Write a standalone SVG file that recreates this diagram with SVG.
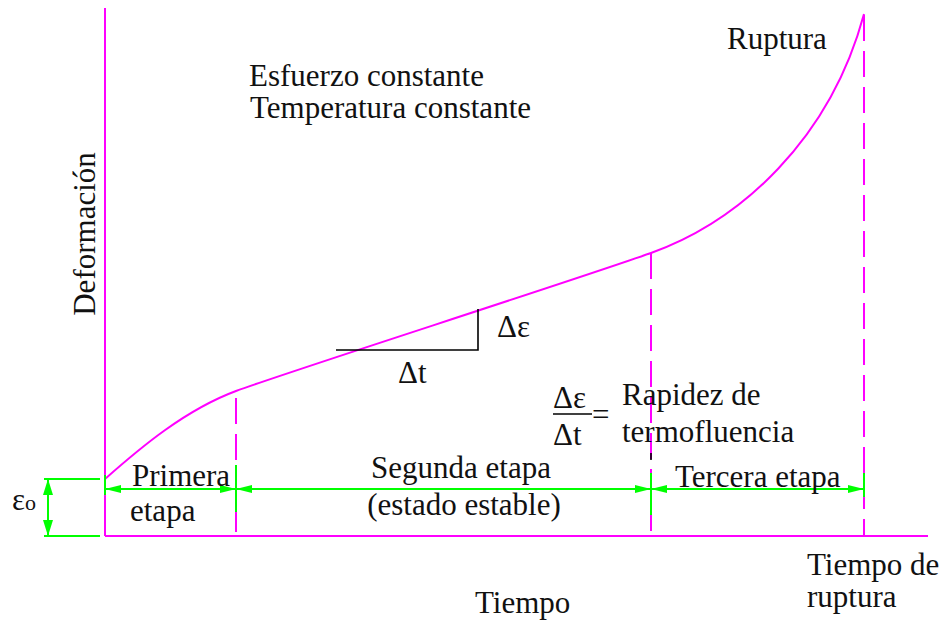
<svg xmlns="http://www.w3.org/2000/svg" width="946" height="621" viewBox="0 0 946 621">
<style>
text{font-family:"Liberation Serif","Times New Roman",serif;font-size:31px;fill:#111}
.mg{stroke:#FF00FF;stroke-width:2;fill:none}
.dash{stroke:#FF00FF;stroke-width:2;fill:none;stroke-dasharray:26 10}
.gr{stroke:#00FF00;stroke-width:2;fill:none}
.bk{stroke:#000;stroke-width:1.6;fill:none}
</style>
<defs>
<marker id="ah" viewBox="0 0 16 8" refX="16" refY="4" markerWidth="16" markerHeight="8" markerUnits="userSpaceOnUse" orient="auto-start-reverse">
<path d="M0,0 L16,4 L0,8 Z" fill="#00FF00"/>
</marker>
<marker id="av" viewBox="0 0 16 10" refX="16" refY="5" markerWidth="16" markerHeight="10" markerUnits="userSpaceOnUse" orient="auto-start-reverse">
<path d="M0,0 L16,5 L0,10 Z" fill="#00FF00"/>
</marker>
</defs>
<g id="axes">
<line class="mg" x1="105" y1="8" x2="105" y2="536"/>
<line class="mg" x1="105" y1="536" x2="928" y2="536"/>
</g>
<g id="curve">
<path class="mg" d="M105,479 C140,448 185,410 236,391 C290,371 560,285 651,253 C740,221 830,140 864,14"/>
</g>
<g id="guides">
<line class="dash" x1="236" y1="398" x2="236" y2="536"/>
<line class="dash" x1="651" y1="253" x2="651" y2="536"/>
<line class="dash" x1="864" y1="15" x2="864" y2="536"/>
<line class="bk" x1="651" y1="453" x2="651" y2="460"/>
</g>
<g id="slope">
<polyline class="bk" points="336,350 478,350 478,309"/>
<text x="497" y="337">Δε</text>
<text x="398" y="383">Δt</text>
</g>
<g id="connectors">
<line class="gr" x1="105" y1="475" x2="105" y2="495"/>
<line class="gr" x1="236" y1="465" x2="236" y2="512"/>
<line class="gr" x1="651" y1="473" x2="651" y2="515"/>
<line class="gr" x1="864" y1="473" x2="864" y2="497"/>
<line class="gr" x1="105" y1="489" x2="236" y2="489" marker-start="url(#ah)" marker-end="url(#ah)"/>
<line class="gr" x1="236" y1="489" x2="651" y2="489" marker-start="url(#ah)" marker-end="url(#ah)"/>
<line class="gr" x1="651" y1="489" x2="864" y2="489" marker-start="url(#ah)" marker-end="url(#ah)"/>
<line class="gr" x1="44" y1="479" x2="100" y2="479"/>
<line class="gr" x1="44" y1="536" x2="100" y2="536"/>
<line class="gr" x1="48" y1="479" x2="48" y2="536" marker-start="url(#av)" marker-end="url(#av)"/>
</g>
<g id="labels">
<text x="727" y="49">Ruptura</text>
<text x="249" y="86">Esfuerzo constante</text>
<text x="250" y="118">Temperatura constante</text>
<text transform="translate(95,234) rotate(-90)" text-anchor="middle">Deformación</text>
<text x="12" y="510">ε<tspan font-size="22">o</tspan></text>
<text x="132" y="486">Primera</text>
<text x="130" y="521">etapa</text>
<text x="461" y="478" text-anchor="middle">Segunda etapa</text>
<text x="464" y="515" text-anchor="middle">(estado estable)</text>
<text x="675" y="487">Tercera etapa</text>
<text x="475" y="613">Tiempo</text>
<text x="807" y="575">Tiempo de</text>
<text x="807" y="607">ruptura</text>
</g>
<g id="rate">
<text x="553" y="408">Δε</text>
<line x1="553" y1="414" x2="592" y2="414" stroke="#000" stroke-width="1.5"/>
<text x="553" y="445">Δt</text>
<text x="592" y="425">=</text>
<text x="622" y="405">Rapidez de</text>
<text x="622" y="442">termofluencia</text>
</g>
</svg>
